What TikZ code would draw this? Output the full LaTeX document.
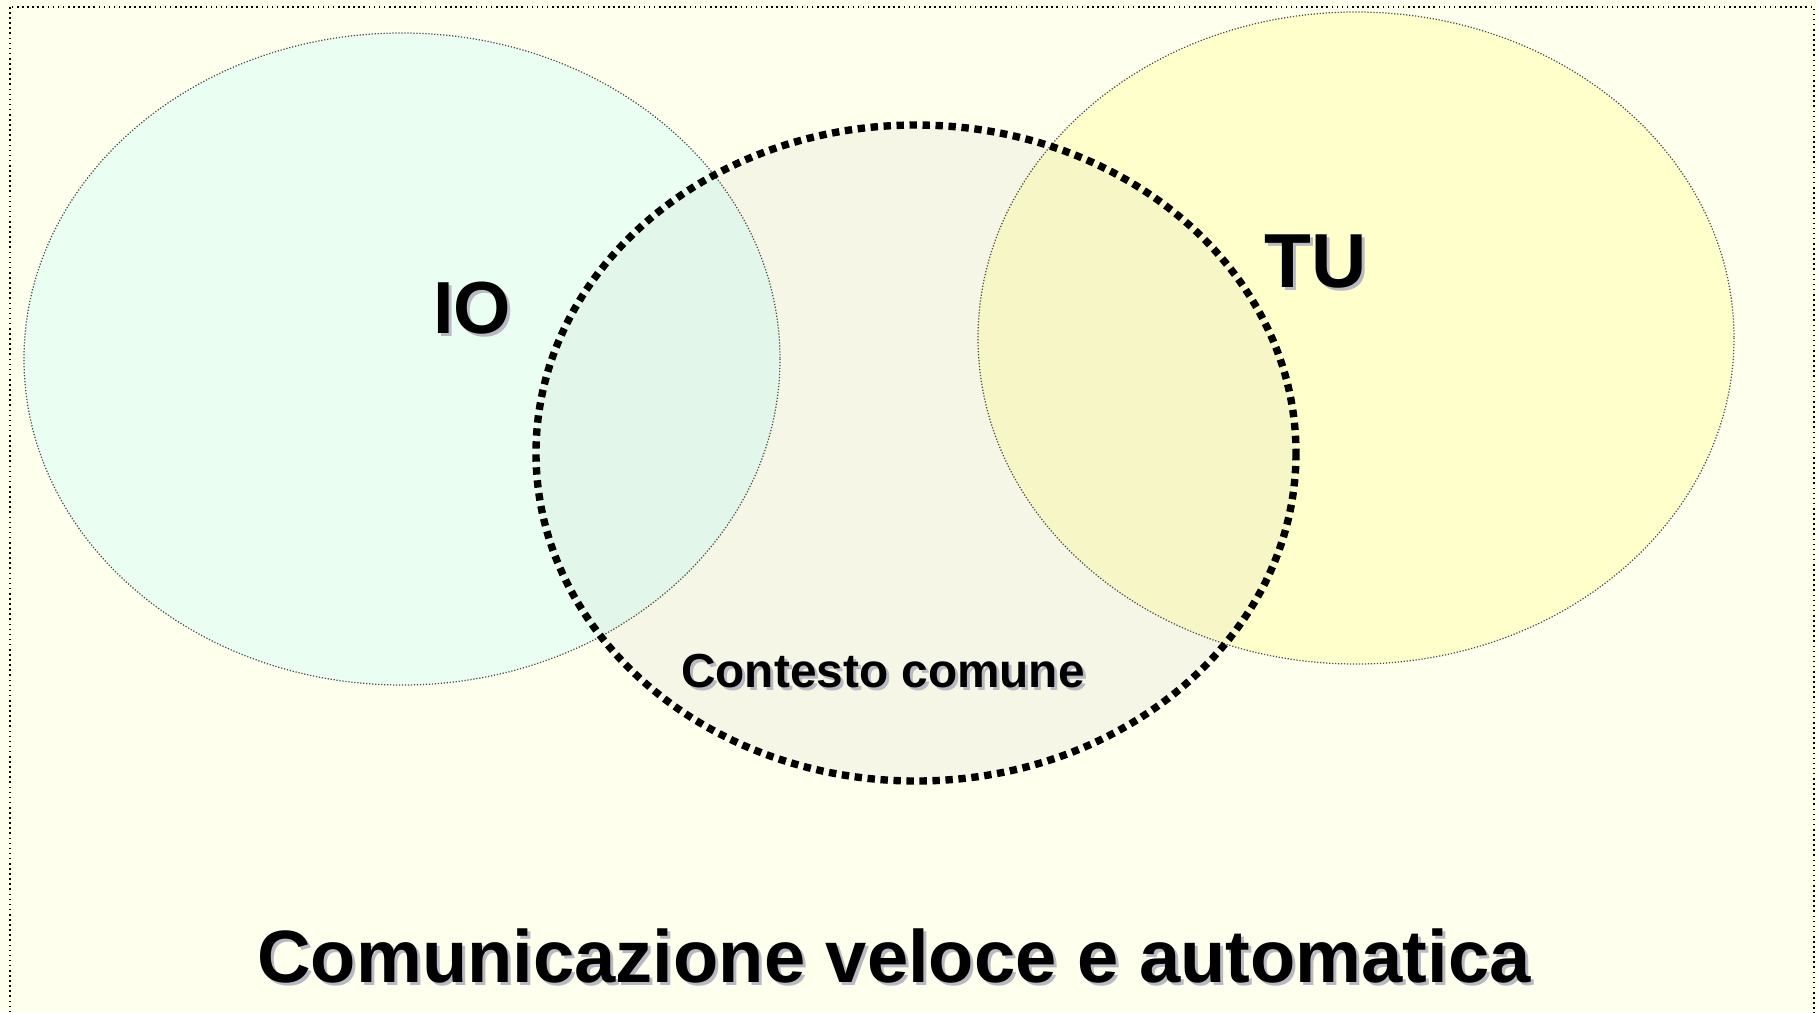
\documentclass[tikz,border=0pt]{standalone}
\usepackage{fontspec}
\setmainfont{Liberation Sans}
\usepackage{tikz}
\definecolor{pagebg}{RGB}{255,255,238}
\definecolor{iofill}{RGB}{234,255,241}
\definecolor{tufill}{RGB}{255,255,204}
\definecolor{shadowgray}{RGB}{185,185,195}
% shadowed label: name, x, y, size, text
\newcommand{\lbl}[5]{\node[anchor=base, text=shadowgray, font=\fontsize{#4}{#4}\selectfont\bfseries] (#1s) at (#2 + 3 , #3 + 3) {#5}; \node[anchor=base, font=\fontsize{#4}{#4}\selectfont\bfseries] (#1) at (#2 , #3) {#5};}

\begin{document}
\begin{tikzpicture}[x=0.02cm, y=-0.02cm]
        \useasboundingbox[fill=pagebg] (0,0) rectangle (1818,1012);
        \draw[black, line width=0.9pt, dotted] (10,7) rectangle (1814,1030);
        % circles
        \fill[iofill] (402,359) ellipse [x radius=378, y radius=326];
        \fill[tufill] (1356,338) ellipse [x radius=378, y radius=326];
        \fill[gray, opacity=0.07] (916,453) ellipse [x radius=380, y radius=328];
        \draw[gray!60!black, line width=0.7pt, densely dotted] (402,359) ellipse [x radius=378, y radius=326];
        \draw[gray!60!black, line width=0.7pt, densely dotted] (1356,338) ellipse [x radius=378, y radius=326];
        \draw[black, line width=4.2pt, dash pattern=on 4.2pt off 3.2pt] (916,453) ellipse [x radius=380, y radius=328];
        % labels
        \lbl{io}{472}{333}{42}{IO}
        \lbl{tu}{1316}{287}{43.6}{TU}
        \lbl{ctx}{883}{687}{27.2}{Contesto comune}
        \lbl{title}{894}{982}{42.2}{Comunicazione veloce e automatica}
\end{tikzpicture}
\end{document}
